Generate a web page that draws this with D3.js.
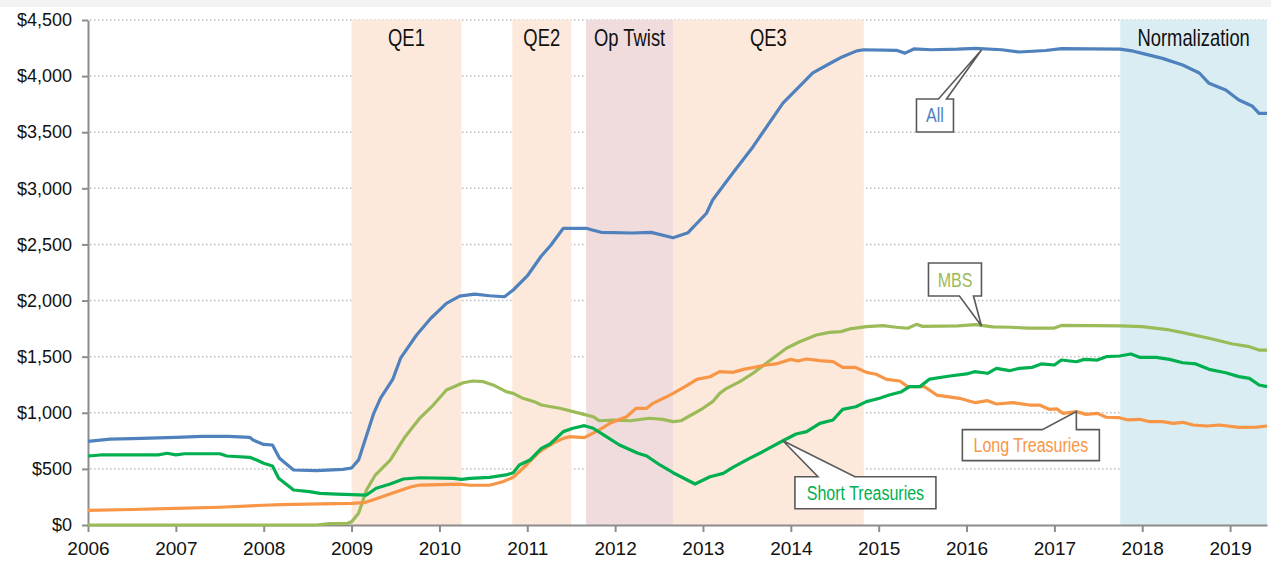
<!DOCTYPE html>
<meta charset="utf-8">
<script src="https://d3js.org/d3.v7.min.js"></script>
<style>
  body { margin: 0; background: #fff; }
  text { font-family: "Liberation Sans", Arial, sans-serif; }
</style>
<div id="chart"></div>
<script>

// Fed balance sheet holdings, $ billions, [decimal year, value]
var allHoldings = [[2006.0,745],[2006.25,765],[2006.5,770],[2007.0,780],[2007.3,790],[2007.6,790],[2007.84,781],[2007.88,757],[2008.0,718],[2008.1,713],[2008.18,594],[2008.34,490],[2008.6,485],[2008.9,495],[2009.0,508],[2009.08,580],[2009.25,990],[2009.33,1130],[2009.47,1300],[2009.56,1490],[2009.74,1693],[2009.9,1840],[2010.08,1975],[2010.23,2040],[2010.4,2058],[2010.57,2043],[2010.74,2034],[2010.84,2094],[2011.0,2219],[2011.16,2397],[2011.27,2495],[2011.41,2644],[2011.67,2644],[2011.74,2629],[2011.84,2608],[2012.2,2602],[2012.41,2608],[2012.66,2560],[2012.83,2605],[2013.04,2778],[2013.11,2896],[2013.28,3074],[2013.34,3137],[2013.57,3371],[2013.91,3760],[2014.25,4028],[2014.48,4128],[2014.59,4173],[2014.75,4225],[2014.83,4235],[2015.2,4230],[2015.3,4205],[2015.4,4242],[2015.6,4235],[2015.9,4240],[2016.1,4247],[2016.4,4235],[2016.6,4215],[2016.9,4228],[2017.08,4245],[2017.75,4240],[2017.9,4222],[2018.0,4203],[2018.23,4158],[2018.46,4099],[2018.65,4028],[2018.76,3936],[2018.95,3876],[2019.1,3787],[2019.25,3734],[2019.33,3668],[2019.42,3668]];

var mbs = [[2006.0,0],[2008.6,0],[2008.75,12],[2008.95,15],[2009.0,28],[2009.08,104],[2009.17,312],[2009.27,445],[2009.44,579],[2009.61,787],[2009.78,955],[2009.93,1069],[2010.08,1203],[2010.27,1268],[2010.38,1283],[2010.5,1277],[2010.61,1248],[2010.76,1188],[2010.84,1173],[2010.95,1129],[2011.08,1099],[2011.16,1069],[2011.37,1040],[2011.6,995],[2011.75,965],[2011.82,929],[2011.98,935],[2012.17,929],[2012.39,951],[2012.54,941],[2012.66,921],[2012.75,929],[2013.0,1040],[2013.11,1099],[2013.19,1173],[2013.27,1218],[2013.42,1277],[2013.57,1352],[2013.72,1441],[2013.95,1575],[2014.1,1633],[2014.29,1693],[2014.44,1717],[2014.57,1723],[2014.67,1747],[2014.86,1767],[2015.05,1776],[2015.2,1762],[2015.33,1753],[2015.43,1788],[2015.5,1770],[2015.9,1775],[2016.1,1785],[2016.3,1765],[2016.5,1762],[2016.7,1755],[2017.0,1755],[2017.08,1778],[2017.75,1775],[2018.0,1767],[2018.31,1738],[2018.46,1714],[2018.76,1664],[2019.03,1613],[2019.22,1589],[2019.33,1559],[2019.42,1559]];

var longTreasuries = [[2006.0,130],[2006.5,138],[2007.0,148],[2007.5,158],[2008.0,176],[2008.2,182],[2008.5,186],[2009.0,193],[2009.15,200],[2009.24,223],[2009.51,297],[2009.68,341],[2009.78,356],[2010.23,365],[2010.34,354],[2010.57,354],[2010.72,386],[2010.84,425],[2010.99,535],[2011.14,653],[2011.29,728],[2011.41,772],[2011.48,787],[2011.65,778],[2011.82,847],[2011.94,906],[2012.13,965],[2012.24,1040],[2012.36,1040],[2012.43,1084],[2012.58,1140],[2012.66,1173],[2012.81,1239],[2012.93,1298],[2013.08,1321],[2013.19,1366],[2013.34,1360],[2013.46,1387],[2013.57,1402],[2013.72,1426],[2013.83,1435],[2014.0,1476],[2014.08,1461],[2014.18,1479],[2014.33,1464],[2014.48,1455],[2014.59,1405],[2014.73,1405],[2014.86,1360],[2014.97,1343],[2015.09,1298],[2015.24,1283],[2015.33,1233],[2015.52,1233],[2015.66,1158],[2015.92,1129],[2016.1,1090],[2016.24,1108],[2016.34,1078],[2016.53,1090],[2016.72,1069],[2016.83,1069],[2016.94,1031],[2017.03,1034],[2017.1,995],[2017.25,1010],[2017.36,986],[2017.49,995],[2017.59,960],[2017.74,956],[2017.84,936],[2017.97,942],[2018.08,921],[2018.23,921],[2018.35,906],[2018.46,915],[2018.58,891],[2018.73,882],[2018.88,891],[2019.1,870],[2019.3,872],[2019.42,882]];

var shortTreasuries = [[2006.0,615],[2006.14,624],[2006.8,625],[2006.9,639],[2007.0,625],[2007.1,635],[2007.5,635],[2007.58,615],[2007.84,603],[2007.92,579],[2008.0,550],[2008.1,526],[2008.17,416],[2008.34,312],[2008.52,297],[2008.64,282],[2008.83,276],[2009.17,267],[2009.28,327],[2009.44,365],[2009.59,410],[2009.78,421],[2010.16,416],[2010.25,407],[2010.35,416],[2010.57,425],[2010.76,446],[2010.84,466],[2010.91,535],[2011.03,579],[2011.16,683],[2011.26,722],[2011.41,832],[2011.52,862],[2011.65,885],[2011.75,862],[2011.9,787],[2012.05,713],[2012.26,639],[2012.36,615],[2012.51,535],[2012.66,466],[2012.91,365],[2013.08,430],[2013.23,460],[2013.34,514],[2013.53,594],[2013.68,653],[2013.91,751],[2014.06,811],[2014.18,832],[2014.33,906],[2014.48,936],[2014.59,1030],[2014.74,1054],[2014.86,1099],[2015.01,1129],[2015.12,1158],[2015.26,1188],[2015.35,1233],[2015.47,1233],[2015.58,1300],[2015.81,1328],[2016.0,1346],[2016.09,1366],[2016.24,1352],[2016.34,1396],[2016.49,1375],[2016.6,1396],[2016.75,1405],[2016.85,1435],[2017.0,1426],[2017.08,1470],[2017.25,1455],[2017.34,1476],[2017.49,1470],[2017.59,1500],[2017.74,1506],[2017.87,1524],[2017.97,1494],[2018.16,1494],[2018.31,1476],[2018.46,1446],[2018.61,1435],[2018.76,1387],[2018.95,1357],[2019.1,1322],[2019.22,1307],[2019.33,1248],[2019.42,1233]];

// policy periods
var periodNames = ["QE1", "QE2", "Op Twist", "QE3", "Normalization"];
var periodStart = [2009.0, 2010.83, 2011.67, 2012.66, 2017.75];
var periodEnd   = [2010.25, 2011.5, 2012.66, 2014.83, 2019.42];
var periodColor = ["#fce9db", "#fce9db", "#f0dcdc", "#fce9db", "#daedf3"];

var yearTicks = d3.range(2006, 2020);
var valueTicks = d3.range(0, 4501, 500);

var seriesNames = ["All", "MBS", "Long Treasuries", "Short Treasuries"];
var seriesColor = ["#4f81bd", "#9bbb59", "#f79646", "#00b050"];
var seriesData = [allHoldings, mbs, longTreasuries, shortTreasuries];

// callout tips (year, value) and box offsets from the tip in px
var calloutTip = [[2016.17, 4233], [2016.17, 1773], [2017.25, 1010], [2013.91, 751]];
var calloutBox = [[-65, 49, -28, 82], [-53, -63, 0, -30], [-114, 18, 23, 49], [12, 36, 153, 68]];
var calloutWedge = [[-43, -35], [-22, -8], [-34, 0], [35, 72]];

var W = 1271, H = 563;
var margin = {top: 20, right: 4, bottom: 38, left: 88};
var width = W - margin.left - margin.right,
    height = H - margin.top - margin.bottom;

var root = d3.select("#chart").append("svg")
  .attr("width", W)
  .attr("height", H);

// strip of the cut-off title area
root.append("rect")
  .attr("x", 0).attr("y", 0)
  .attr("width", W).attr("height", 7)
  .attr("fill", "#f2f2f2");

var svg = root.append("g")
  .attr("transform", "translate(" + margin.left + "," + margin.top + ")");

var x = d3.scaleLinear().domain([2006, 2019.42]).range([0, width]);
var y = d3.scaleLinear().domain([0, 4500]).range([height, 0]);

// condensed-looking text: squeeze Liberation Sans horizontally
function narrowText(parent, cx, cy, txt, size, color) {
  return parent.append("text")
    .attr("transform", "translate(" + cx + "," + cy + ") scale(0.8,1)")
    .attr("text-anchor", "middle")
    .style("font-size", size + "px")
    .attr("fill", color)
    .text(txt);
}

// gridlines
svg.append("g")
  .selectAll("line")
  .data(valueTicks.filter(function(d){ return d > 0; }))
  .enter().append("line")
    .attr("x1", 2).attr("x2", width)
    .attr("y1", function(d){ return y(d); })
    .attr("y2", function(d){ return y(d); })
    .attr("stroke", "#bdbdbd")
    .attr("stroke-width", 1.5)
    .attr("stroke-dasharray", "1.5,2.5");

// shaded periods
svg.append("g")
  .selectAll("rect")
  .data(periodNames)
  .enter().append("rect")
    .attr("x", function(d, i){ return x(periodStart[i]); })
    .attr("y", 0)
    .attr("width", function(d, i){ return x(periodEnd[i]) - x(periodStart[i]); })
    .attr("height", height)
    .attr("fill", function(d, i){ return periodColor[i]; });

periodNames.forEach(function(d, i) {
  narrowText(svg, (x(periodStart[i]) + x(periodEnd[i])) / 2, 26, d, 23, "#111");
});

// axes
var xAxis = svg.append("g")
  .attr("transform", "translate(0," + height + ")")
  .call(d3.axisBottom(x).tickValues(yearTicks).tickFormat(d3.format("d")).tickSize(7).tickSizeOuter(0));
xAxis.selectAll("text").style("font-size", "19px").attr("fill", "#111").attr("dy", "1.05em");

var yAxis = svg.append("g")
  .call(d3.axisLeft(y).tickValues(valueTicks).tickFormat(function(d){ return "$" + d3.format(",")(d); }).tickSize(6).tickSizeOuter(0));
yAxis.selectAll("text").style("font-size", "18px").attr("fill", "#111").attr("x", -16);

svg.selectAll(".domain, .tick line")
  .attr("stroke", "#8c8c8c")
  .attr("stroke-width", 2);

// lines
var line = d3.line()
  .x(function(d){ return x(d[0]); })
  .y(function(d){ return y(d[1]); });

svg.append("g")
  .selectAll("path")
  .data(seriesData)
  .enter().append("path")
    .attr("d", line)
    .attr("fill", "none")
    .attr("stroke", function(d, i){ return seriesColor[i]; })
    .attr("stroke-width", 3.2)
    .attr("stroke-linejoin", "round");

// callouts
seriesNames.forEach(function(name, i) {
  var tx = x(calloutTip[i][0]), ty = y(calloutTip[i][1]);
  var b = calloutBox[i], w = calloutWedge[i];
  var x0 = tx + b[0], y0 = ty + b[1], x1 = tx + b[2], y1 = ty + b[3];
  var p = d3.path();
  if (b[1] > 0) {
    // wedge on top edge
    p.moveTo(x0, y0);
    p.lineTo(tx + w[0], y0);
    p.lineTo(tx, ty);
    p.lineTo(tx + w[1], y0);
    p.lineTo(x1, y0);
    p.lineTo(x1, y1);
    p.lineTo(x0, y1);
  } else {
    // wedge on bottom edge
    p.moveTo(x0, y0);
    p.lineTo(x1, y0);
    p.lineTo(x1, y1);
    p.lineTo(tx + w[1], y1);
    p.lineTo(tx, ty);
    p.lineTo(tx + w[0], y1);
    p.lineTo(x0, y1);
  }
  p.closePath();
  svg.append("path")
    .attr("d", p.toString())
    .attr("fill", "#fff")
    .attr("stroke", "#595959")
    .attr("stroke-width", 1.6)
    .attr("stroke-linejoin", "miter");
  narrowText(svg, (x0 + x1) / 2, (y0 + y1) / 2 + 7, name, 20, seriesColor[i]);
});

</script>
